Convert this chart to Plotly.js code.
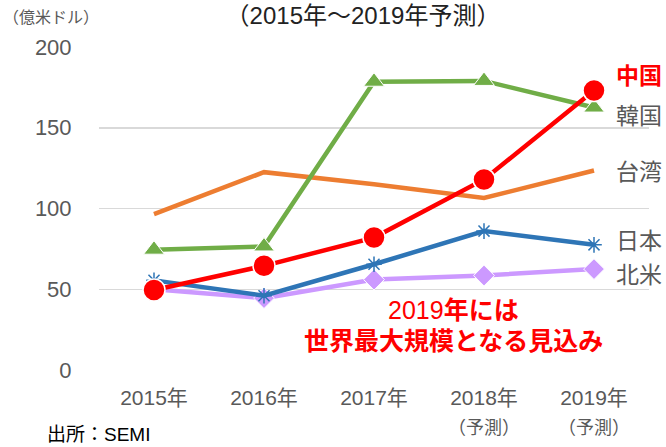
<!DOCTYPE html>
<html><head><meta charset="utf-8">
<script src="https://cdn.plot.ly/plotly-3.0.1.min.js"></script>
<style>html,body{margin:0;padding:0;background:#fff}#c{width:666px;height:447px}</style>
</head><body><div id="c"></div>
<script>
const years = ['2015年','2016年','2017年','2018年','2019年'];
const tickText = ['2015年','2016年','2017年','2018年','2019年'];
const forecastNote = '（予測）';
const china = [49.5, 64.5, 82, 118, 173];
const korea = [74.5, 76.5, 178.5, 179, 162.5];
const taiwan = [96.5, 122.5, 115, 106.5, 123.5];
const japan = [55.5, 46, 65.5, 86, 77.5];
const northAmerica = [50, 44.5, 56, 58.5, 62.5];
const seriesNames = ['中国','韓国','台湾','日本','北米'];
const labelY = [182, 157, 122.5, 80, 59];

const F = 'Liberation Sans, Arial, Noto Sans CJK JP, sans-serif';
const gray = '#595959';

const traces = [
  {x: years, y: taiwan, mode:'lines', line:{color:'#ED7D31', width:4.5}, name:'台湾'},
  {x: years, y: korea, mode:'lines+markers', line:{color:'#70AD47', width:4.5},
   marker:{symbol:'triangle-up', size:18, color:'#70AD47', line:{color:'#fff', width:1}}, name:'韓国'},
  {x: years, y: northAmerica, mode:'lines+markers', line:{color:'#CC99FF', width:4.5},
   marker:{symbol:'diamond', size:16, color:'#CC99FF', line:{color:'#fff', width:1}}, name:'北米'},
  {x: years, y: japan, mode:'lines+markers', line:{color:'#2E75B6', width:4.5},
   marker:{symbol:'asterisk-open', size:13, color:'#2E75B6', line:{color:'#2E75B6', width:1.5}}, name:'日本'},
  {x: years, y: china, mode:'lines+markers', line:{color:'#FF0000', width:4.5},
   marker:{symbol:'circle', size:22, color:'#FF0000', line:{color:'#fff', width:1.5}}, name:'中国'}
];

const labelColors = ['#FF0000', gray, gray, gray, gray];
const annotations = seriesNames.map((n,i)=>({
  xref:'paper', yref:'y', x:0.936, y:labelY[i], xanchor:'left', yanchor:'middle',
  text: i===0 ? '<b>'+n+'</b>' : n, showarrow:false,
  font:{family:F, size:23, color:labelColors[i]}
}));
annotations.push(
  {xref:'paper', yref:'paper', x:-0.087, y:1.09, xanchor:'center', yanchor:'middle',
   text:'（億米ドル）', showarrow:false, font:{family:F, size:16, color:gray}},
  {xref:'paper', yref:'y', x:0.644, y:37, xanchor:'center', yanchor:'middle',
   text:'2019<b>年には</b>', showarrow:false, font:{family:F, size:25, color:'#FF0000'}},
  {xref:'paper', yref:'y', x:0.644, y:18, xanchor:'center', yanchor:'middle',
   text:'<b>世界最大規模となる見込み</b>', showarrow:false, font:{family:F, size:25, color:'#FF0000'}},
  {xref:'x', yref:'paper', x:3, y:-0.18, xanchor:'center', yanchor:'middle',
   text:forecastNote, showarrow:false, font:{family:F, size:18, color:gray}},
  {xref:'x', yref:'paper', x:4, y:-0.18, xanchor:'center', yanchor:'middle',
   text:forecastNote, showarrow:false, font:{family:F, size:18, color:gray}},
  {xref:'paper', yref:'paper', x:-0.098, y:-0.2, xanchor:'left', yanchor:'middle',
   text:'出所：SEMI', showarrow:false, font:{family:F, size:19, color:'#000'}}
);

const layout = {
  width:666, height:447,
  margin:{l:99, r:17, t:47, b:77},
  paper_bgcolor:'#fff', plot_bgcolor:'#fff',
  showlegend:false,
  title:{text:'（2015年～2019年予測）', x:0.48, xref:'paper', y:0.966, yref:'container',
         xanchor:'center', yanchor:'middle',
         font:{family:F, size:24, color:'#222'}},
  xaxis:{type:'category', tickvals:years, ticktext:tickText, range:[-0.5,4.5],
         showgrid:false, zeroline:false, showline:false,
         ticks:'outside', ticklen:9, tickcolor:'rgba(0,0,0,0)',
         tickfont:{family:F, size:21, color:gray}},
  yaxis:{range:[0,200], dtick:50, showgrid:true, gridcolor:'#D9D9D9', gridwidth:1.5,
         zeroline:false, showline:false,
         ticks:'outside', ticklen:22, tickcolor:'rgba(0,0,0,0)',
         tickfont:{family:F, size:22, color:gray}},
  annotations:annotations
};
Plotly.newPlot('c', traces, layout, {displayModeBar:false, staticPlot:true});
</script></body></html>
